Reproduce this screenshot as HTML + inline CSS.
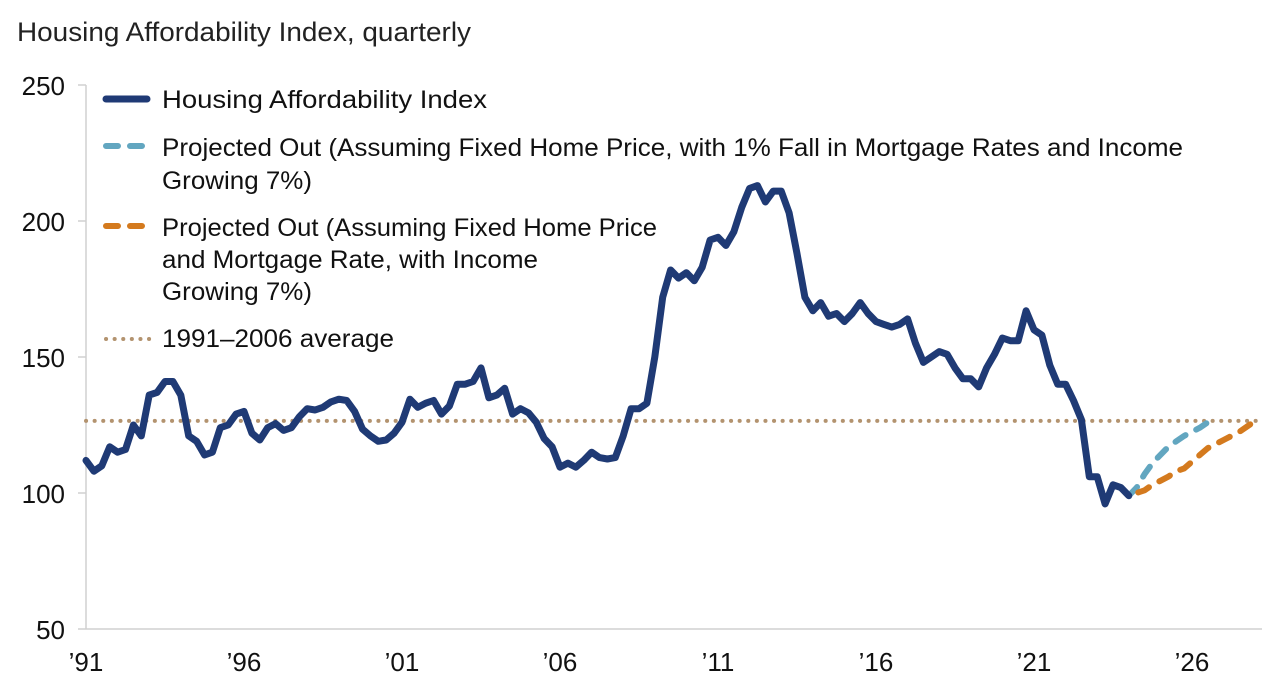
<!DOCTYPE html>
<html><head><meta charset="utf-8"><style>
html,body{margin:0;padding:0;background:#fff;}
svg{display:block;font-family:"Liberation Sans Narrow","Liberation Sans",sans-serif;}
</style></head><body>
<svg id="chart" width="1280" height="690" viewBox="0 0 1280 690">
<text x="17" y="41" font-size="27" fill="#222" textLength="454" lengthAdjust="spacingAndGlyphs">Housing Affordability Index, quarterly</text>
<g id="axes"></g>
<g id="series"></g>
<g>
<line x1="106" y1="99" x2="147" y2="99" stroke="#1f3a75" stroke-width="7" stroke-linecap="round"/>
<text x="162" y="108" font-size="25" fill="#111" textLength="325" lengthAdjust="spacingAndGlyphs">Housing Affordability Index</text>
<line x1="106" y1="146" x2="147" y2="146" stroke="#62a6c0" stroke-width="6" stroke-linecap="round" stroke-dasharray="12 12"/>
<text x="162" y="156" font-size="25" fill="#111" textLength="1021" lengthAdjust="spacingAndGlyphs">Projected Out (Assuming Fixed Home Price, with 1% Fall in Mortgage Rates and Income</text>
<text x="162" y="189" font-size="25" fill="#111" textLength="150" lengthAdjust="spacingAndGlyphs">Growing 7%)</text>
<line x1="106" y1="226" x2="147" y2="226" stroke="#d47a1e" stroke-width="6" stroke-linecap="round" stroke-dasharray="12 12"/>
<text x="162" y="236" font-size="25" fill="#111" textLength="495" lengthAdjust="spacingAndGlyphs">Projected Out (Assuming Fixed Home Price</text>
<text x="162" y="268" font-size="25" fill="#111" textLength="376" lengthAdjust="spacingAndGlyphs">and Mortgage Rate, with Income</text>
<text x="162" y="300" font-size="25" fill="#111" textLength="150" lengthAdjust="spacingAndGlyphs">Growing 7%)</text>
<line x1="106" y1="339" x2="150" y2="339" stroke="#b3936f" stroke-width="4" stroke-linecap="round" stroke-dasharray="0.1 8.5"/>
<text x="162" y="347" font-size="25" fill="#111" textLength="232" lengthAdjust="spacingAndGlyphs">1991–2006 average</text>
</g>
</svg>
<script>
const hai = [112,108,110,117,115,116,125,121,136,137,141,141,136,121,119,114,115,124,125,129,130,122,119.5,124,125.5,123,124,128,131,130.5,131.5,133.5,134.5,134,130,123.5,121,119,119.5,122,126,134.5,131.5,133,134,129,132,140,140,141,146,135,136,138.5,129,131,129.5,126,120,117,109.5,111,109.5,112,115,113,112.5,113,121,131,131,133,150,172,182,179,181,178,183,193,194,191,196,205,212,213,207,211,211,203,188,172,167,170,165,166,163,166,170,166,163,162,161,162,164,155,148,150,152,151,146,142,142,139,146,151,157,156,156,167,160,158,147,140,140,134,127,106,106,96,103,102,99];
const projTeal = [99,102,107,111,114,117,119,121,122.5,124,126,127.5];
const projOrange = [99,100,101,103,104.5,106,108,109,111.5,114,116.5,118,119.5,121,122.5,124.5,126.5];
const projStart = 132;
const average = 126.5;
const yTicks = [50,100,150,200,250];
const xTickYears = [1991,1996,2001,2006,2011,2016,2021,2026];
const xTickLabels = ["’91","’96","’01","’06","’11","’16","’21","’26"];

const NS = "http://www.w3.org/2000/svg";
const X0 = 86, QW = 7.9, Y0 = 629, PX = 2.72;
function xq(i){ return X0 + i*QW; }
function xYear(y){ return X0 + (y-1991)*4*QW; }
function yv(v){ return Y0 - (v-50)*PX; }
function mk(tag, attrs, parent){ const e=document.createElementNS(NS,tag); for(const k in attrs) e.setAttribute(k,attrs[k]); parent.appendChild(e); return e; }

const axes = document.getElementById('axes');
const series = document.getElementById('series');

const yAxis = mk('line',{x1:X0,y1:85,x2:X0,y2:Y0,stroke:'#d0d0d0','stroke-width':1.5},axes);


const xAxis = mk('line',{x1:X0,y1:Y0,x2:1262,y2:Y0,stroke:'#d0d0d0','stroke-width':1.5},axes);



yTicks.forEach(v=>{
  const t = mk('line',{x1:78,y1:yv(v),x2:X0,y2:yv(v),stroke:'#d0d0d0','stroke-width':1.5},axes);
  
  
  const l = mk('text',{x:65,y:yv(v)+10,'font-size':26,'text-anchor':'end',fill:'#111'},axes);
  
  
  l.textContent = v;
});
xTickYears.forEach((yr,i)=>{
  const l = mk('text',{x:xYear(yr),y:671,'font-size':26,'text-anchor':'middle',fill:'#111'},axes);
  
  
  l.textContent = xTickLabels[i];
});

const avg = mk('line',{x1:X0,y1:yv(average),x2:1262,y2:yv(average),stroke:'#b3936f','stroke-width':4,'stroke-linecap':'round','stroke-dasharray':'0.1 8.5'},series);



function path(vals, start){ return vals.map((v,i)=>(i?'L':'M')+xq(start+i).toFixed(1)+','+yv(v).toFixed(1)).join(' '); }

const pt = mk('path',{d:path(projTeal,projStart),fill:'none',stroke:'#62a6c0','stroke-width':6,'stroke-linecap':'round','stroke-dasharray':'12 12'},series);


const po = mk('path',{d:path(projOrange,projStart),fill:'none',stroke:'#d47a1e','stroke-width':6,'stroke-linecap':'round','stroke-dasharray':'12 12','stroke-dashoffset':'-10'},series);


const main = mk('path',{d:path(hai,0),fill:'none',stroke:'#1f3a75','stroke-width':7,'stroke-linejoin':'round','stroke-linecap':'round'},series);


</script>
</body></html>
